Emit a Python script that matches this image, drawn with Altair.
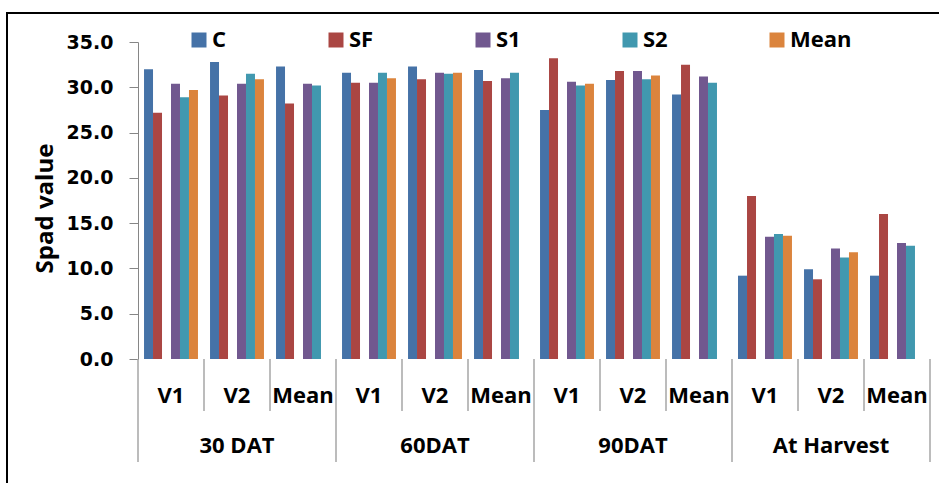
import altair as alt
import pandas as pd

periods = ["30 DAT", "60DAT", "90DAT", "At Harvest"]
varieties = ["V1", "V2", "Mean"]
series_names = ["C", "SF", "S1", "S2", "Mean"]
series_colors = ["#4572A7", "#AA4643", "#71588F", "#4198AF", "#DB843D"]

C = [32.0, 32.8, 32.3, 31.6, 32.3, 31.9, 27.5, 30.8, 29.2, 9.2, 9.9, 9.2]
SF = [27.2, 29.1, 28.2, 30.5, 30.9, 30.7, 33.2, 31.8, 32.5, 18.0, 8.8, 16.0]
S1 = [30.4, 30.4, 30.4, 30.5, 31.6, 31.0, 30.6, 31.8, 31.2, 13.5, 12.2, 12.8]
S2 = [28.9, 31.5, 30.2, 31.6, 31.5, 31.6, 30.2, 30.9, 30.5, 13.8, 11.2, 12.5]
MEAN = [29.7, 30.9, None, 31.0, 31.6, None, 30.4, 31.3, None, 13.6, 11.8, None]

y_ticks = [0, 5, 10, 15, 20, 25, 30, 35]

W, H = 792, 317

keys = [f"{p}|{v}" for p in periods for v in varieties]
var_labels = [v for p in periods for v in varieties]

rows = []
for s, vals in zip(series_names, [C, SF, S1, S2, MEAN]):
    for k, val in zip(keys, vals):
        if val is not None:
            rows.append({"key": k, "series": s, "value": val})
df = pd.DataFrame(rows)

xscale = alt.Scale(domain=keys, paddingInner=0, paddingOuter=0)

bars = alt.Chart(df).mark_bar().encode(
    x=alt.X("key:N", scale=xscale,
            axis=alt.Axis(labels=False, ticks=False, domain=True, domainColor="#868686",
                          domainWidth=1, title=None, grid=False)),
    xOffset=alt.XOffset("series:N",
                        scale=alt.Scale(domain=["C", "SF", "gap", "S1", "S2", "Mean"],
                                        paddingInner=0, paddingOuter=0.67)),
    y=alt.Y("value:Q", scale=alt.Scale(domain=[0, 35]),
            axis=alt.Axis(values=y_ticks, format=".1f", labelFont="DejaVu Sans",
                          labelFontWeight="bold", labelFontSize=19, labelColor="black",
                          labelPadding=16, tickSize=9, tickColor="#868686",
                          domainColor="#868686", grid=False, title="Spad value",
                          titleFont="Open Sans", titleFontSize=24, titleFontWeight="bold",
                          titleColor="black", titleX=-93, titleY=166, titleAngle=270,
                          titleAlign="center", titleBaseline="middle")),
    color=alt.Color("series:N", scale=alt.Scale(domain=series_names, range=series_colors),
                    legend=alt.Legend(orient="none", legendX=50, legendY=-13,
                                      direction="horizontal", columns=5, columnPadding=98,
                                      symbolType="square", symbolSize=225,
                                      symbolStrokeWidth=0, labelFont="Open Sans",
                                      labelFontWeight="bold", labelFontSize=22,
                                      labelColor="black", labelOffset=2, title=None,
                                      padding=0)),
)

label_df = pd.DataFrame({"key": keys, "label": var_labels})
group_df = pd.DataFrame({"key": [f"{p}|V2" for p in periods], "label": periods})
short_df = pd.DataFrame({"key": [k for k, v in zip(keys, var_labels) if v != "V1"]})
long_df = pd.DataFrame({"key": [k for k, v in zip(keys, var_labels) if v == "V1"]})
end_df = pd.DataFrame({"key": [keys[-1]]})

txt = dict(font="Open Sans", fontWeight="bold", fontSize=22, color="black",
           baseline="alphabetic", align="center")

var_text = alt.Chart(label_df).mark_text(**txt).encode(
    x=alt.X("key:N", scale=xscale, axis=None), y=alt.value(H + 44), text="label:N")
group_text = alt.Chart(group_df).mark_text(**txt).encode(
    x=alt.X("key:N", scale=xscale, axis=None), y=alt.value(H + 94), text="label:N")

rule_style = dict(color="#A6A6A6", strokeWidth=1.5)
short_rules = alt.Chart(short_df).mark_rule(**rule_style).encode(
    x=alt.X("key:N", scale=xscale, axis=None, bandPosition=0),
    y=alt.value(H), y2=alt.value(H + 52))
long_rules = alt.Chart(long_df).mark_rule(**rule_style).encode(
    x=alt.X("key:N", scale=xscale, axis=None, bandPosition=0),
    y=alt.value(H), y2=alt.value(H + 103))
end_rule = alt.Chart(end_df).mark_rule(**rule_style).encode(
    x=alt.X("key:N", scale=xscale, axis=None, bandPosition=1),
    y=alt.value(H), y2=alt.value(H + 103))

frame_df = pd.DataFrame({"a": [0]})
frame_top = alt.Chart(frame_df).mark_rule(color="black", strokeWidth=2).encode(
    x=alt.value(-131), x2=alt.value(820), y=alt.value(-29))
frame_left = alt.Chart(frame_df).mark_rule(color="black", strokeWidth=2).encode(
    x=alt.value(-131), y=alt.value(-30), y2=alt.value(460))

chart = alt.layer(bars, var_text, group_text, short_rules, long_rules, end_rule,
                  frame_top, frame_left).properties(
    width=W, height=H,
    autosize=alt.AutoSizeParams(type="none"),
    padding={"left": 138, "top": 42, "right": 9, "bottom": 124},
    background="white",
).configure_view(stroke=None)

chart.save("out.html", embed_options={"renderer": "svg", "actions": False})
